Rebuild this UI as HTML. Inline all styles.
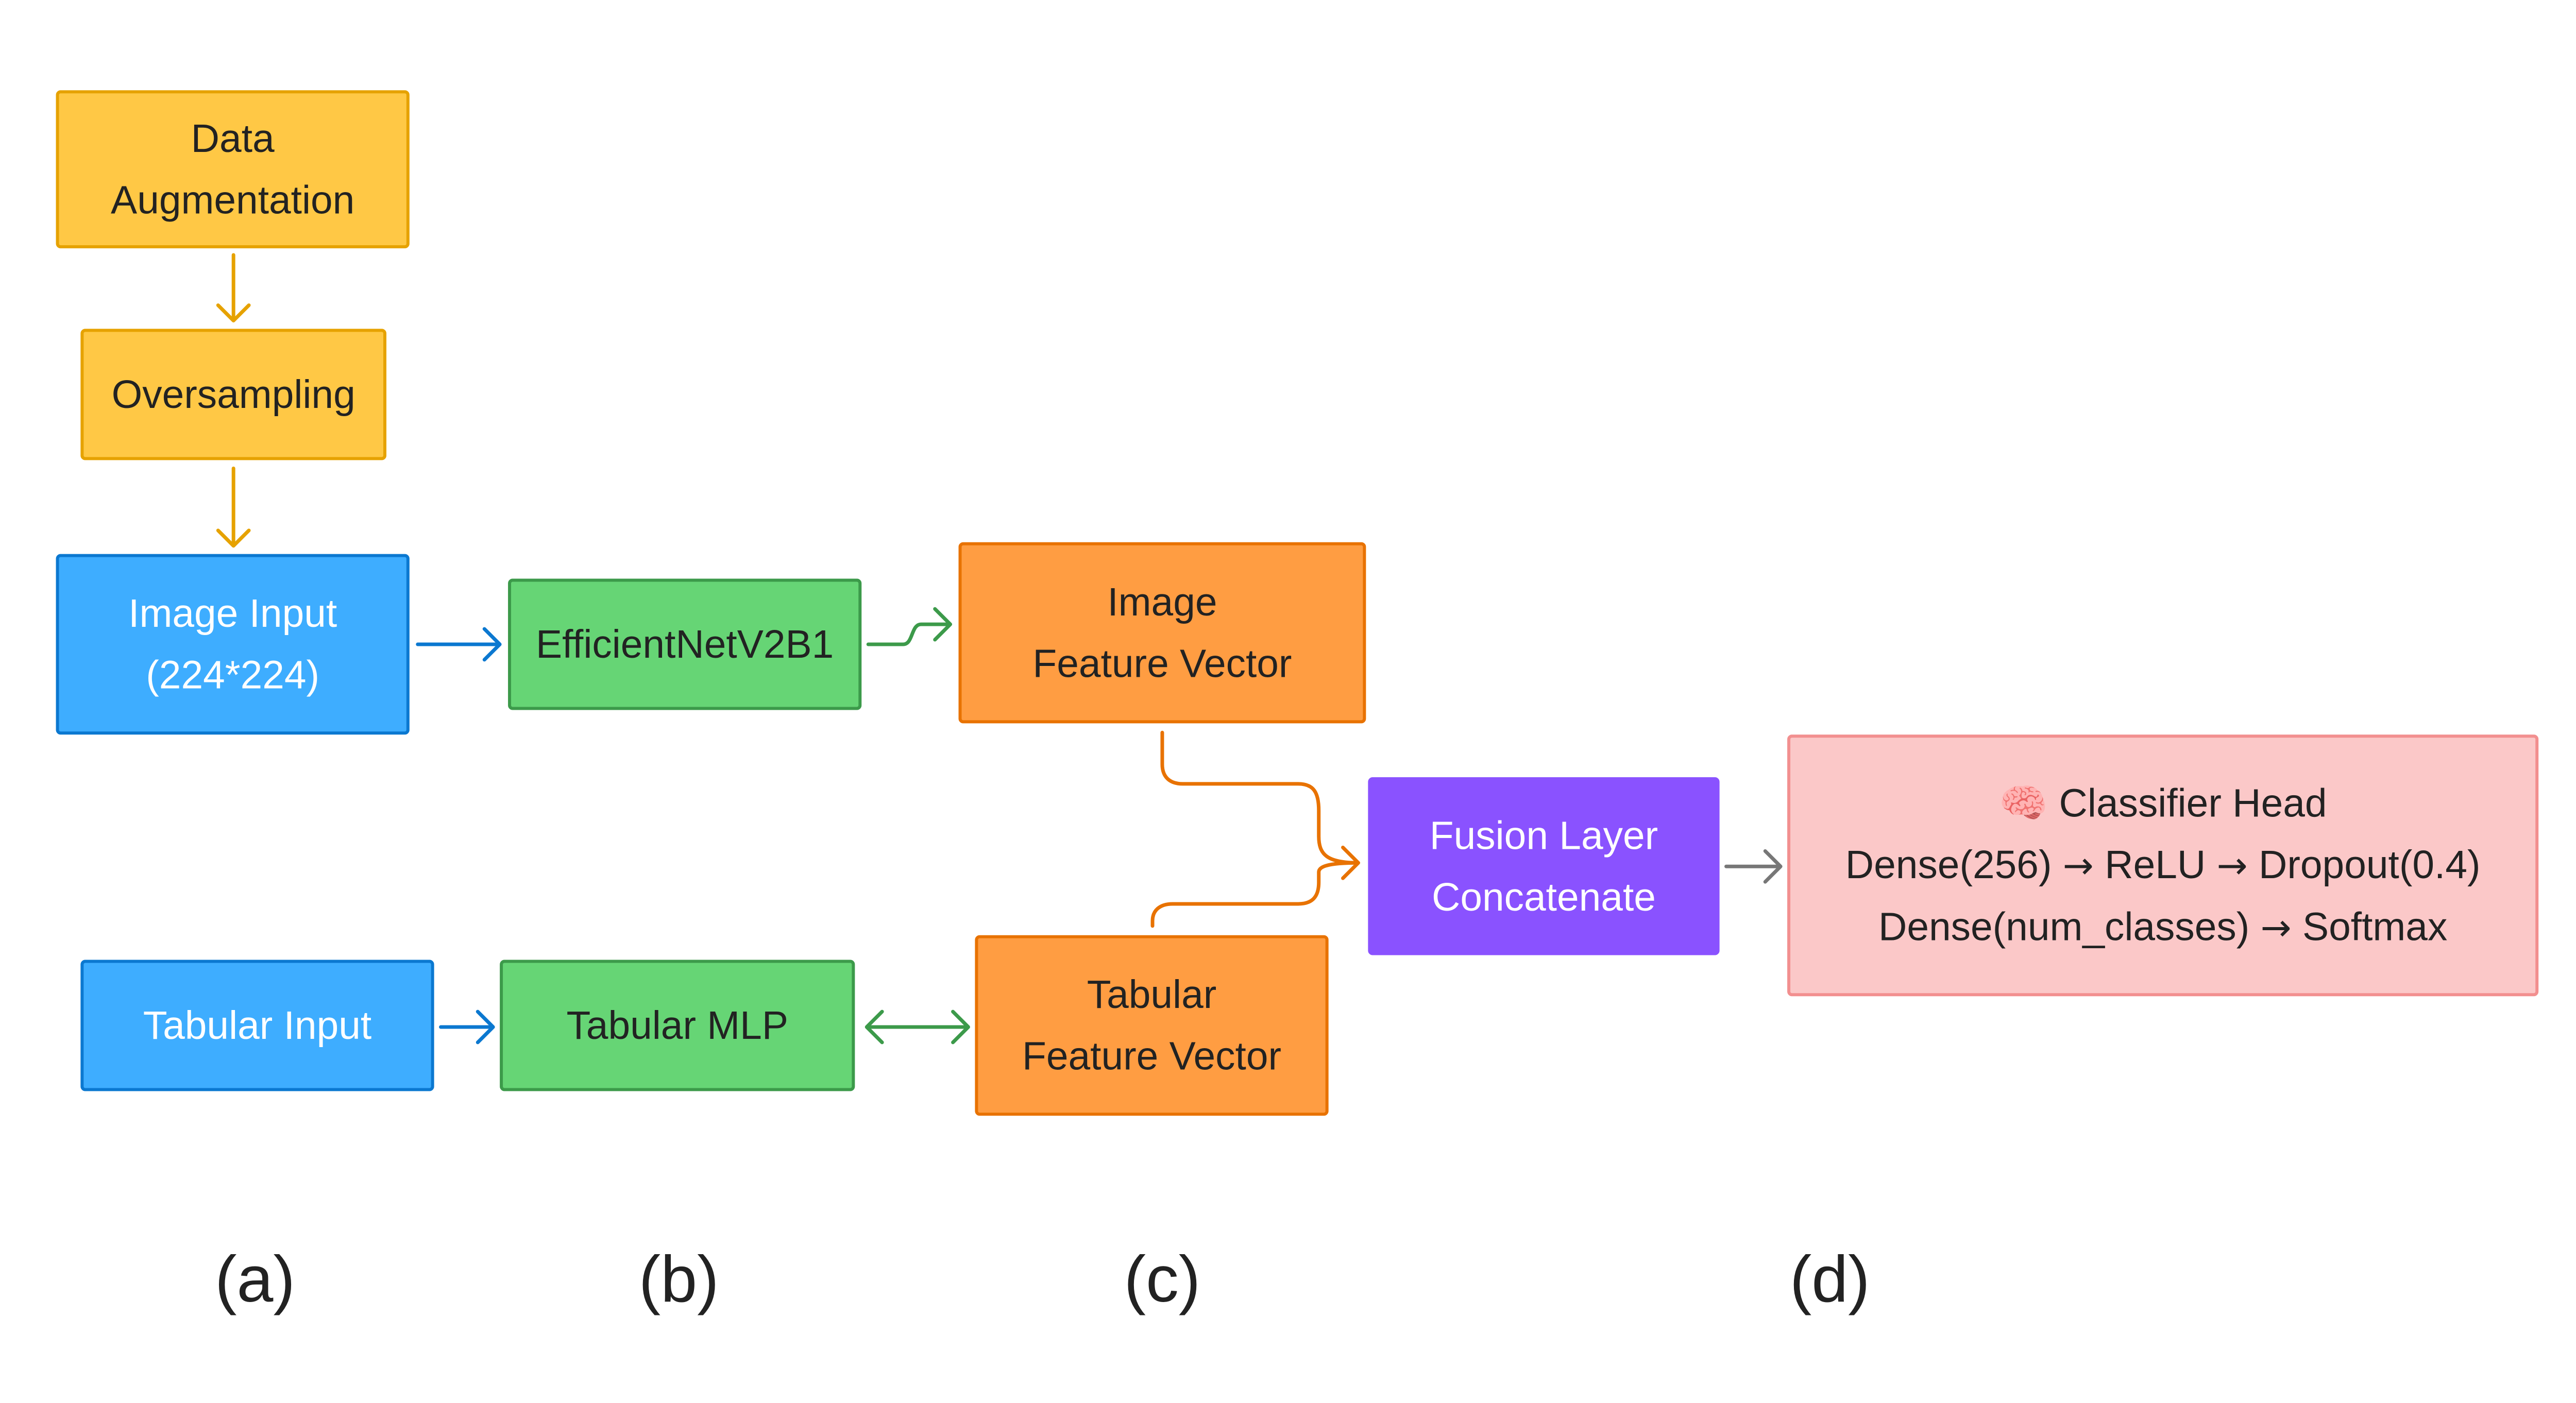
<!DOCTYPE html>
<html><head><meta charset="utf-8"><style>
body{margin:0;width:5024px;height:2724px;background:#fff;position:relative;overflow:hidden;font-family:"Liberation Sans","Noto Sans CJK SC",sans-serif;}
#w{position:absolute;left:0;top:0;width:5024px;height:2724px;transform:scale(0.996);transform-origin:0 0}
.b{position:absolute;box-sizing:border-box;border:6px solid;border-radius:9px;display:flex;align-items:center;justify-content:center;text-align:center;font-size:77px;line-height:120px;color:#222;}
.y{background:#FFC845;border-color:#E6A200}
.bl{background:#3EADFF;border-color:#0B78D0;color:#fff}
.g{background:#66D575;border-color:#3C9A4A}
.o{background:#FF9D42;border-color:#E87200}
.p{background:#8A52FF;border-color:#8A52FF;color:#fff}
.k{background:#FBC8C8;border-color:#F28F8F}
.a{font-family:"DejaVu Sans",sans-serif;font-size:72px}
.l{position:absolute;font-size:128px;top:2420px;color:#222;transform:translateX(-50%)}
svg{position:absolute;left:0;top:0}
</style></head><body><div id="w">
<svg width="5024" height="2724" fill="none" stroke-width="7" stroke-linecap="round" stroke-linejoin="round">
<g stroke="#E6A200"><path d="M455 497V625M425 595l30 30 30-30"/><path d="M455 913V1064M425 1034l30 30 30-30"/></g>
<g stroke="#0B78D0"><path d="M814 1256H974M944 1226l30 30-30 30"/><path d="M859 2002H961M931 1972l30 30-30 30"/></g>
<g stroke="#3C9A4A"><path d="M1692 1256H1760C1780 1256 1775 1217 1795 1217H1852M1822 1187l30 30-30 30"/><path d="M1689 2002H1887M1719 1972l-30 30 30 30M1857 1972l30 30-30 30"/></g>
<g stroke="#E87200"><path d="M2265 1428V1490C2265 1515 2280 1528 2305 1528H2530C2560 1528 2570 1545 2570 1580V1630C2570 1665 2585 1682 2647 1682M2617 1652l30 30-30 30"/><path d="M2246 1805V1795C2246 1775 2260 1762 2285 1762H2530C2560 1762 2570 1745 2570 1720V1700C2570 1690 2585 1682 2647 1682"/></g>
<g stroke="#777"><path d="M3364 1689H3470M3440 1659l30 30-30 30"/></g>
</svg>
<div class="b y" style="left:109px;top:176px;width:689px;height:308px">Data<br>Augmentation</div>
<div class="b y" style="left:157px;top:641px;width:596px;height:256px">Oversampling</div>
<div class="b bl" style="left:109px;top:1080px;width:689px;height:352px">Image Input<br>(224*224)</div>
<div class="b g" style="left:990px;top:1128px;width:689px;height:256px">EfficientNetV2B1</div>
<div class="b o" style="left:1868px;top:1057px;width:794px;height:353px">Image<br>Feature Vector</div>
<div class="b p" style="left:2666px;top:1515px;width:685px;height:347px">Fusion Layer<br>Concatenate</div>
<div class="b k" style="left:3483px;top:1432px;width:1464px;height:510px"><div>🧠 Classifier Head<br>Dense(256) <span class="a">→</span> ReLU <span class="a">→</span> Dropout(0.4)<br>Dense(num_classes) <span class="a">→</span> Softmax</div></div>
<div class="b bl" style="left:157px;top:1871px;width:689px;height:256px">Tabular Input</div>
<div class="b g" style="left:974px;top:1871px;width:692px;height:256px">Tabular MLP</div>
<div class="b o" style="left:1900px;top:1823px;width:689px;height:352px">Tabular<br>Feature Vector</div>
<div class="l" style="left:497px">(a)</div>
<div class="l" style="left:1323px">(b)</div>
<div class="l" style="left:2265px">(c)</div>
<div class="l" style="left:3566px">(d)</div>
</div></body></html>
